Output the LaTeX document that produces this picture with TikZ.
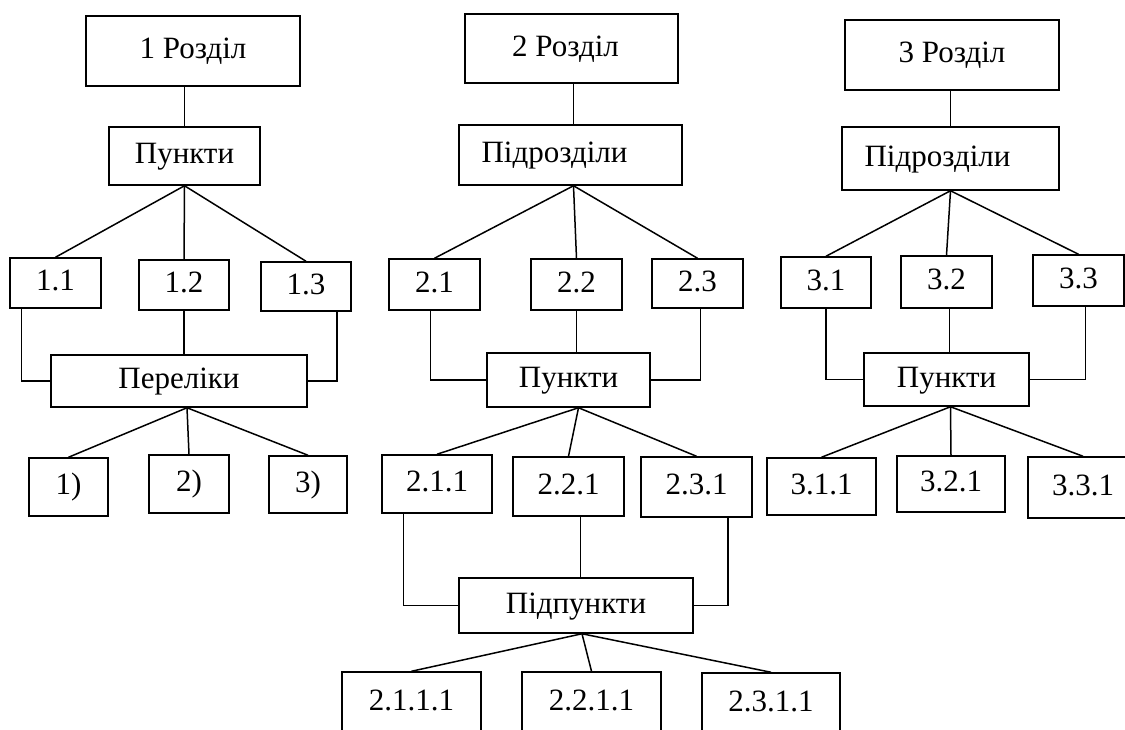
\documentclass[tikz,border=0pt]{standalone}
\usepackage{fontspec}
\setmainfont{Liberation Serif}

\begin{document}
\begin{tikzpicture}[x=1pt, y=-1pt,
  box/.style={draw, line width=1.5pt, inner sep=0pt,
    text height=22pt, text depth=7pt,
    font=\fontsize{31}{37}\selectfont},
  link/.style={line width=1.5pt}]

\clip(0,0) rectangle (1125,729); %% page

%% 1 Розділ
\node[box, minimum width=214, minimum height=70] (r1) at (193,51) {1 Розділ};
\node[box, minimum width=151, minimum height=58] (p1) at (184.5,156) {Пункти};
\node[box, minimum width=91, minimum height=50] (n11) at (55.5,283) {1.1};
\node[box, minimum width=90, minimum height=50] (n12) at (184,285) {1.2};
\node[box, minimum width=90, minimum height=49] (n13) at (306,286.5) {1.3};
\node[box, minimum width=256, minimum height=52] (per1) at (179,381) {Переліки};
\node[box, minimum width=79, minimum height=58] (e1) at (68.5,487) {1)};
\node[box, minimum width=80, minimum height=58] (e2) at (189,484) {2)};
\node[box, minimum width=78, minimum height=57] (e3) at (308,484.5) {3)};

\draw[link] (p1.north) -- (p1.north |- r1.south);
\foreach \n in {n11,n12,n13} \draw[link] (p1.south) -- (\n.north);
\draw[link] (n12.south) -- (n12.south |- per1.north);
\draw[link] ([xshift=12]n11.south west) |- (per1.west);
\draw[link] ([xshift=-15]n13.south east) |- (per1.east);
\foreach \n in {e1,e2,e3} \draw[link] ([xshift=8]per1.south) -- (\n.north);

%% 2 Розділ
\node[box, minimum width=213, minimum height=69] (r2) at (571.5,48.5) {\hspace*{-12pt}2 Розділ};
\node[box, minimum width=223, minimum height=60] (pd2) at (570.5,155) {\hspace*{-32pt}Підрозділи};
\node[box, minimum width=91, minimum height=51] (n21) at (434.5,284.5) {2.1};
\node[box, minimum width=91, minimum height=51] (n22) at (576.5,284.5) {2.2};
\node[box, minimum width=91, minimum height=49] (n23) at (697.5,283.5) {2.3};
\node[box, minimum width=163, minimum height=54] (pk2) at (568.5,380) {Пункти};
\node[box, minimum width=110, minimum height=58] (m1) at (437,484) {2.1.1};
\node[box, minimum width=111, minimum height=59] (m2) at (568.5,486.5) {2.2.1};
\node[box, minimum width=111, minimum height=60] (m3) at (696.5,487) {2.3.1};
\node[box, minimum width=234, minimum height=55] (pp2) at (576,605.5) {Підпункти};
\node[box, minimum width=139, minimum height=62] (q1) at (411.5,703) {2.1.1.1};
\node[box, minimum width=139, minimum height=62] (q2) at (591.5,703) {2.2.1.1};
\node[box, minimum width=138, minimum height=62] (q3) at (771,704) {2.3.1.1};

\draw[link] ([xshift=3]pd2.north) -- ([xshift=3]pd2.north |- r2.south);
\foreach \n in {n21,n22,n23} \draw[link] ([xshift=3]pd2.south) -- (\n.north);
\draw[link] (n22.south) -- (n22.south |- pk2.north);
\draw[link] ([xshift=-4]n21.south) |- (pk2.west);
\draw[link] ([xshift=3]n23.south) |- (pk2.east);
\foreach \n in {m1,m2,m3} \draw[link] ([xshift=10]pk2.south) -- (\n.north);
\draw[link] ([xshift=22]m1.south west) |- (pp2.west);
\draw[link] ([xshift=12]m2.south) -- ([xshift=12]m2.south |- pp2.north);
\draw[link] ([xshift=-25]m3.south east) |- (pp2.east);
\foreach \n in {q1,q2,q3} \draw[link] ([xshift=6]pp2.south) -- (\n.north);

%% 3 Розділ
\node[box, minimum width=214, minimum height=70] (r3) at (952,55) {3 Розділ};
\node[box, minimum width=217, minimum height=63] (pd3) at (950.5,158.5) {\hspace*{-26pt}Підрозділи};
\node[box, minimum width=90, minimum height=51] (s1) at (826,282.5) {3.1};
\node[box, minimum width=91, minimum height=52] (s2) at (946.5,282) {3.2};
\node[box, minimum width=91, minimum height=51] (s3) at (1078.5,280.5) {3.3};
\node[box, minimum width=165, minimum height=53] (pk3) at (946.5,379.5) {Пункти};
\node[box, minimum width=109, minimum height=57] (t1) at (821.5,486.5) {3.1.1};
\node[box, minimum width=108, minimum height=56] (t2) at (951,484) {3.2.1};
\node[box, minimum width=110, minimum height=61] (t3) at (1083,487.5) {3.3.1};

\draw[link] (pd3.north) -- (pd3.north |- r3.south);
\foreach \n in {s1,s2,s3} \draw[link] (pd3.south) -- (\n.north);
\draw[link] ([xshift=3]s2.south) -- ([xshift=3]s2.south |- pk3.north);
\draw[link] (s1.south) |- (pk3.west);
\draw[link] ([xshift=7]s3.south) |- (pk3.east);
\foreach \n in {t1,t2,t3} \draw[link] ([xshift=4]pk3.south) -- (\n.north);

\end{tikzpicture}
\end{document}
